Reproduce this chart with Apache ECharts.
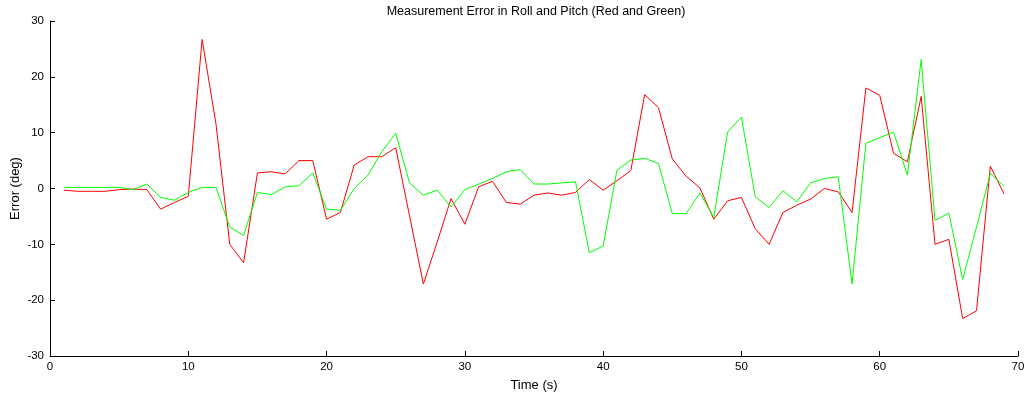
<!DOCTYPE html>
<html>
<head>
<meta charset="utf-8">
<script src="https://cdn.jsdelivr.net/npm/echarts@6/dist/echarts.min.js"></script>
<style>
html,body{margin:0;padding:0;background:#fff;}
#chart{width:1024px;height:397px;}
</style>
</head>
<body>
<div id="chart"></div>
<script>
const time = [1,2,3,4,5,6,7,8,9,10,11,12,13,14,15,16,17,18,19,20,21,22,23,24,25,26,27,28,29,30,31,32,33,34,35,36,37,38,39,40,41,42,43,44,45,46,47,48,49,50,51,52,53,54,55,56,57,58,59,60,61,62,63,64,65,66,67,68,69];
const rollError = [-0.3,-0.5,-0.5,-0.5,-0.2,-0.1,-0.2,-3.7,-2.5,-1.4,26.7,11.6,-10.0,-13.3,2.8,3.0,2.6,5.0,5.0,-5.5,-4.3,4.2,5.7,5.7,7.3,-4.9,-17.1,-9.6,-1.8,-6.4,0.3,1.3,-2.5,-2.8,-1.2,-0.8,-1.2,-0.7,1.6,-0.3,1.4,3.2,16.8,14.5,5.3,2.2,0.1,-5.5,-2.2,-1.6,-7.2,-10.0,-4.3,-3.0,-1.9,0.0,-0.6,-4.3,18.0,16.7,6.3,4.8,16.5,-10.0,-9.1,-23.3,-21.9,4.0,-1.0];
const pitchError = [0.2,0.2,0.2,0.2,0.2,-0.2,0.8,-1.6,-2.1,-0.7,0.2,0.2,-6.9,-8.4,-0.7,-1.1,0.3,0.5,2.8,-3.7,-3.9,0.0,2.4,6.6,9.9,1.0,-1.2,-0.3,-3.3,-0.2,0.8,1.8,3.0,3.4,0.8,0.8,1.0,1.2,-11.5,-10.3,3.3,5.1,5.4,4.5,-4.5,-4.5,-0.8,-5.2,10.1,12.8,-1.5,-3.4,-0.4,-2.4,1.0,1.8,2.1,-17.1,8.1,9.1,10.1,2.4,23.1,-5.7,-4.4,-16.3,-6.9,2.7,0.4];
const xTicks = [0,10,20,30,40,50,60,70];
const yTicks = [-30,-20,-10,0,10,20,30];

const font = 'Liberation Sans, Arial, sans-serif';
const chart = echarts.init(document.getElementById('chart'), null, {renderer:'canvas'});
chart.setOption({
  animation:false,
  backgroundColor:'#ffffff',
  title:{
    text:'Measurement Error in Roll and Pitch (Red and Green)',
    left:531, top:0, textAlign:'center',
    textStyle:{fontFamily:font,fontSize:12.5,fontWeight:'normal',color:'#000'}
  },
  grid:{left:50,right:6,top:21,bottom:41,containLabel:false,outerBoundsMode:'none'},
  xAxis:{
    type:'value',min:xTicks[0],max:xTicks[xTicks.length-1],interval:10,
    name:'Time (s)',nameLocation:'middle',nameGap:23,nameMoveOverlap:false,
    nameTextStyle:{fontFamily:font,fontSize:13,color:'#000'},
    axisLine:{show:true,onZero:false,lineStyle:{color:'#000',width:1}},
    axisTick:{show:true,inside:true,length:5,lineStyle:{color:'#000'}},
    axisLabel:{fontFamily:font,fontSize:11.5,color:'#000',margin:5},
    splitLine:{show:false}
  },
  yAxis:{
    type:'value',min:yTicks[0],max:yTicks[yTicks.length-1],interval:10,
    name:'Error (deg)',nameLocation:'middle',nameGap:28,nameRotate:90,nameMoveOverlap:false,
    nameTextStyle:{fontFamily:font,fontSize:13,color:'#000'},
    axisLine:{show:true,onZero:false,lineStyle:{color:'#000',width:1}},
    axisTick:{show:true,inside:true,length:5,lineStyle:{color:'#000'}},
    axisLabel:{fontFamily:font,fontSize:11.5,color:'#000',margin:6},
    splitLine:{show:false}
  },
  series:[
    {type:'line',name:'Roll',data:time.map((t,i)=>[t,rollError[i]]),showSymbol:false,
     lineStyle:{color:'#ff0000',width:1},itemStyle:{color:'#ff0000'}},
    {type:'line',name:'Pitch',data:time.map((t,i)=>[t,pitchError[i]]),showSymbol:false,
     lineStyle:{color:'#00ff00',width:1},itemStyle:{color:'#00ff00'}}
  ]
});
</script>
</body>
</html>
